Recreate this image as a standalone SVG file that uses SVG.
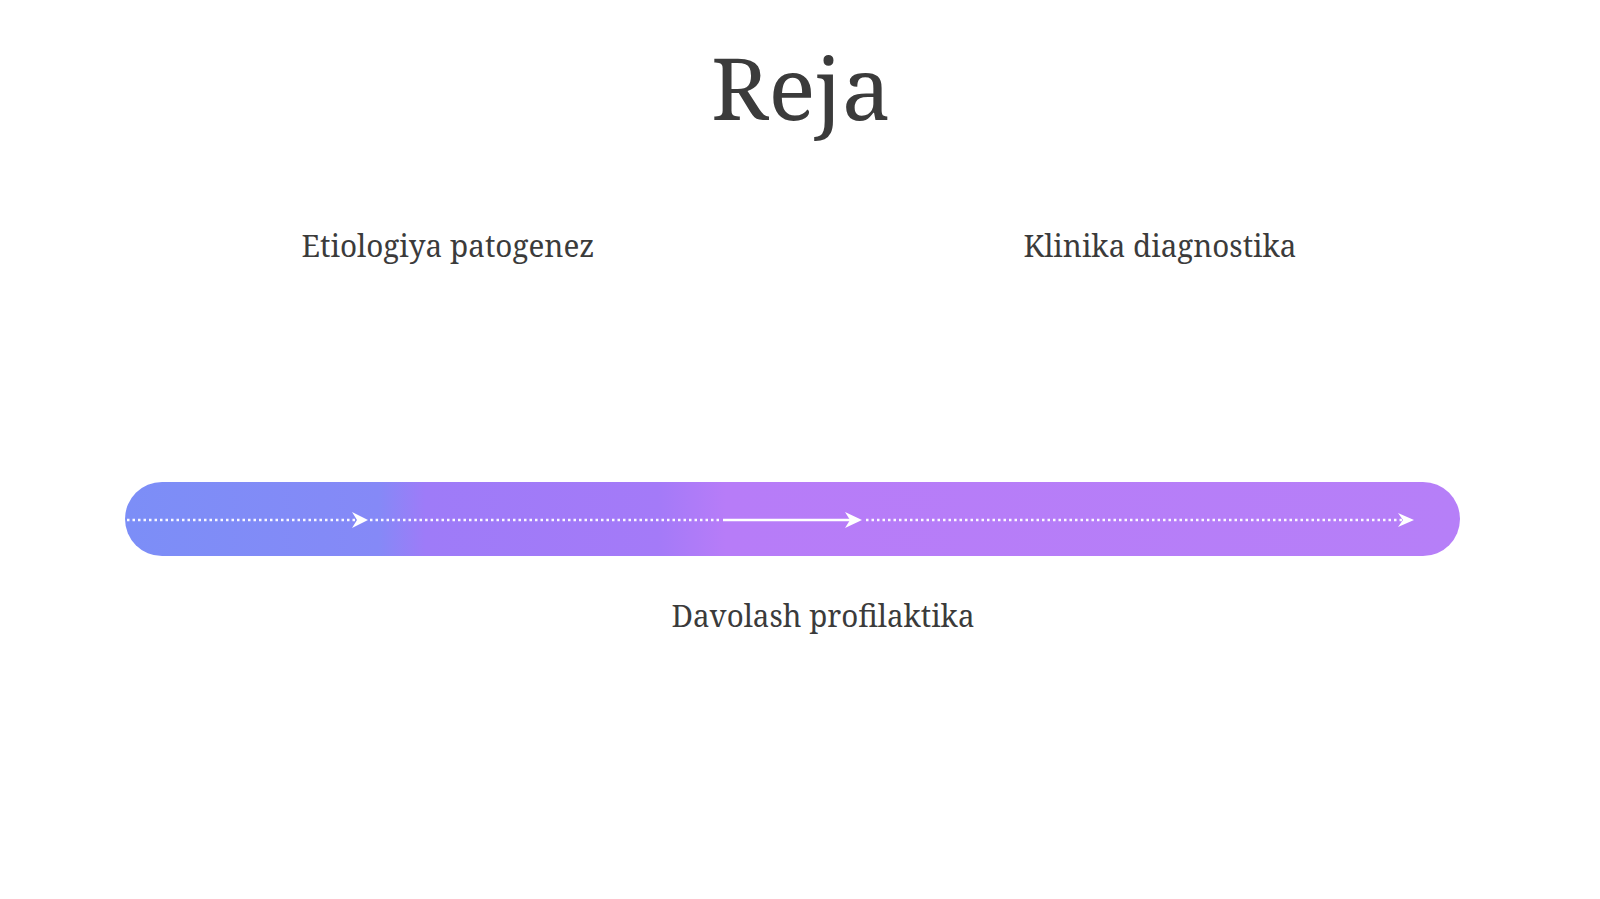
<svg xmlns="http://www.w3.org/2000/svg" width="1600" height="899" viewBox="0 0 1600 899">
  <defs>
    <linearGradient id="barGrad" x1="125" y1="0" x2="1460" y2="0" gradientUnits="userSpaceOnUse">
      <stop offset="0" stop-color="#7c8ef7"/>
      <stop offset="0.19" stop-color="#8589f7"/>
      <stop offset="0.225" stop-color="#9e7bf8"/>
      <stop offset="0.40" stop-color="#a47af8"/>
      <stop offset="0.45" stop-color="#b77cf8"/>
      <stop offset="1" stop-color="#b67ff8"/>
    </linearGradient>
    <style>
      .lbl { font-family: "Noto Serif", "DejaVu Serif", serif; fill: #3b3b3b; }
      .dots { stroke: #ffffff; stroke-width: 2.6; stroke-dasharray: 2.5 3; fill: none; opacity: 0.95; }
      .solid { stroke: #ffffff; stroke-width: 2.6; fill: none; }
      .head { fill: #ffffff; }
    </style>
  </defs>
  <rect width="1600" height="899" fill="#ffffff"/>

  <g id="title">
    <text class="lbl" x="801" y="120" font-size="86" text-anchor="middle" textLength="180" lengthAdjust="spacingAndGlyphs">Reja</text>
  </g>

  <g id="timeline-bar">
    <rect x="125" y="482" width="1335" height="74" rx="37" ry="37" fill="url(#barGrad)"/>
  </g>

  <g id="connectors">
    <line class="dots" x1="127" y1="520" x2="356" y2="520"/>
    <path class="head" d="M352 512 L368 520 L352 528 L357 520 Z"/>
    <line class="dots" x1="370" y1="520" x2="722" y2="520"/>
    <line class="solid" x1="723" y1="520" x2="854" y2="520"/>
    <path class="head" d="M845 512 L862 520 L845 528 L850 520 Z"/>
    <line class="dots" x1="866" y1="520" x2="1404" y2="520"/>
    <path class="head" d="M1398 513 L1414 520 L1398 527 L1403 520 Z"/>
  </g>

  <g id="node-etiologiya">
    <text class="lbl" x="448" y="257" font-size="30" text-anchor="middle" textLength="293" lengthAdjust="spacingAndGlyphs">Etiologiya patogenez</text>
  </g>
  <g id="node-klinika">
    <text class="lbl" x="1160" y="257" font-size="30" text-anchor="middle" textLength="273" lengthAdjust="spacingAndGlyphs">Klinika diagnostika</text>
  </g>
  <g id="node-davolash">
    <text class="lbl" x="823" y="627" font-size="30" text-anchor="middle" textLength="303" lengthAdjust="spacingAndGlyphs">Davolash profilaktika</text>
  </g>
</svg>
